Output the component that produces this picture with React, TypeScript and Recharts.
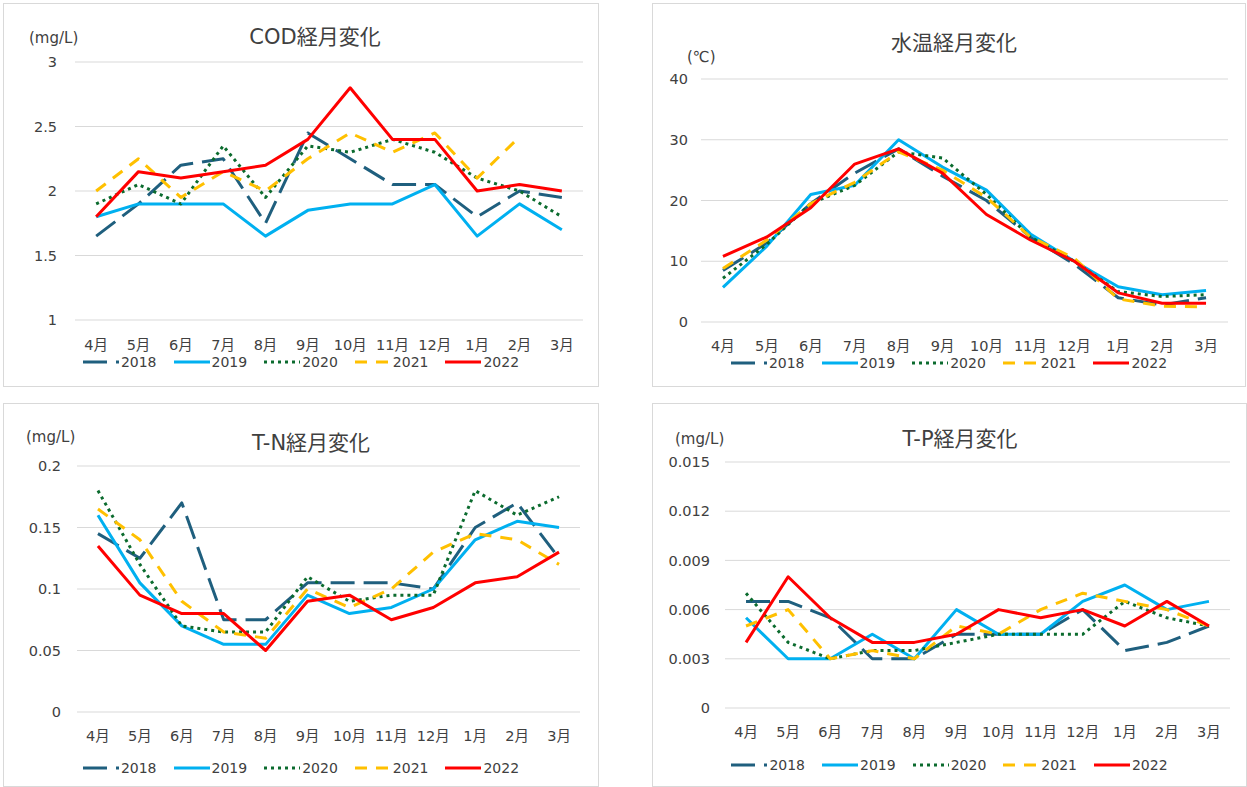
import React from 'react';
import { LineChart, Line, XAxis, YAxis, CartesianGrid, Legend } from 'recharts';

const months = ['4月', '5月', '6月', '7月', '8月', '9月', '10月', '11月', '12月', '1月', '2月', '3月'];
const years = ['2018', '2019', '2020', '2021', '2022'];

// COD (mg/L)
const cod2018 = [1.65, 1.9, 2.2, 2.25, 1.75, 2.45, 2.25, 2.05, 2.05, 1.8, 2.0, 1.95];
const cod2019 = [1.8, 1.9, 1.9, 1.9, 1.65, 1.85, 1.9, 1.9, 2.05, 1.65, 1.9, 1.7];
const cod2020 = [1.9, 2.05, 1.9, 2.35, 1.95, 2.35, 2.3, 2.4, 2.3, 2.1, 2.0, 1.8];
const cod2021 = [2.0, 2.25, 1.95, 2.15, 2.0, 2.25, 2.45, 2.3, 2.45, 2.1, 2.42, null];
const cod2022 = [1.8, 2.15, 2.1, 2.15, 2.2, 2.4, 2.8, 2.4, 2.4, 2.0, 2.05, 2.0];
const codTicks = [1, 1.5, 2, 2.5, 3];

// 水温 (℃)
const temp2018 = [8.5, 13, 19.5, 24.5, 28.5, 24, 20, 14, 9.5, 4, 2.8, 4];
const temp2019 = [5.7, 12.5, 21, 22.5, 30, 25.5, 21.7, 14.5, 10, 5.8, 4.5, 5.2];
const temp2020 = [7.2, 12.8, 19.5, 22.5, 28, 27, 21, 14, 10, 5, 4.2, 4.5];
const temp2021 = [8.8, 13.5, 19.5, 23, 28, 25, 20.5, 14, 10.5, 3.8, 2.6, 2.5];
const temp2022 = [10.8, 14, 18.8, 26, 28.5, 24.5, 17.7, 13.5, 10, 4.8, 3.1, 3.1];
const tempTicks = [0, 10, 20, 30, 40];

// T-N (mg/L)
const tn2018 = [0.145, 0.125, 0.17, 0.075, 0.075, 0.105, 0.105, 0.105, 0.1, 0.15, 0.17, 0.125];
const tn2019 = [0.16, 0.105, 0.07, 0.055, 0.055, 0.095, 0.08, 0.085, 0.1, 0.14, 0.155, 0.15];
const tn2020 = [0.18, 0.12, 0.07, 0.065, 0.065, 0.11, 0.09, 0.095, 0.095, 0.18, 0.16, 0.175];
const tn2021 = [0.165, 0.14, 0.09, 0.065, 0.06, 0.1, 0.085, 0.1, 0.13, 0.145, 0.14, 0.12];
const tn2022 = [0.135, 0.095, 0.08, 0.08, 0.05, 0.09, 0.095, 0.075, 0.085, 0.105, 0.11, 0.13];
const tnTicks = [0, 0.05, 0.1, 0.15, 0.2];

// T-P (mg/L)
const tp2018 = [0.0065, 0.0065, 0.0055, 0.003, 0.003, 0.0045, 0.0045, 0.0045, 0.006, 0.0035, 0.004, 0.005];
const tp2019 = [0.0055, 0.003, 0.003, 0.0045, 0.003, 0.006, 0.0045, 0.0045, 0.0065, 0.0075, 0.006, 0.0065];
const tp2020 = [0.007, 0.004, 0.003, 0.0035, 0.0035, 0.004, 0.0045, 0.0045, 0.0045, 0.0065, 0.0055, 0.005];
const tp2021 = [0.005, 0.006, 0.003, 0.0035, 0.003, 0.005, 0.0045, 0.006, 0.007, 0.0065, 0.006, 0.005];
const tp2022 = [0.004, 0.008, 0.0055, 0.004, 0.004, 0.0045, 0.006, 0.0055, 0.006, 0.005, 0.0065, 0.005];
const tpTicks = [0, 0.003, 0.006, 0.009, 0.012, 0.015];

const colors = ['#1F5F7E', '#00B0F0', '#0B6B2E', '#FFC000', '#FF0000'];
const dashes = ['24 9', undefined, '3 4', '12 9', undefined];

const FONT = '"DejaVu Sans", "Noto Sans CJK JP", sans-serif';
const TEXT = '#404040';
const FS = 14.5;

type Plot = { left: number; right: number; top: number; bottom: number };

function buildRows(series: (number | null)[][]) {
  return months.map((m, i) => {
    const row: Record<string, any> = { month: m };
    years.forEach((y, k) => {
      row['y' + y] = series[k][i];
    });
    return row;
  });
}

function LegendContent(props: any) {
  const payload = [...(props.payload || [])].sort((a: any, b: any) => String(a.value).localeCompare(String(b.value)));
  return (
    <div style={{ display: 'flex', justifyContent: 'center', alignItems: 'center', height: 20, fontFamily: FONT, fontSize: 14, color: TEXT }}>
      {payload.map((e: any, i: number) => (
        <div key={e.value} style={{ display: 'flex', alignItems: 'center', marginRight: i === payload.length - 1 ? 0 : 17 }}>
          <svg width={36} height={10}>
            <line x1={0} y1={5} x2={36} y2={5} stroke={e.color} strokeWidth={3} strokeDasharray={e.payload?.strokeDasharray} />
          </svg>
          <span style={{ marginLeft: 2 }}>{e.value}</span>
        </div>
      ))}
    </div>
  );
}

type PanelProps = {
  left: number; top: number; width: number; height: number;
  title: string; titleX: number; titleY: number;
  unit: string; unitX: number; unitY: number;
  plot: Plot; legendTop: number;
  series: (number | null)[][]; ticks: number[];
  xMargin: number; yMargin: number;
};

function Panel(p: PanelProps) {
  const rows = buildRows(p.series);
  const plotW = p.width - p.plot.left - p.plot.right;
  const half = plotW / months.length / 2;
  return (
    <div style={{ position: 'absolute', left: p.left, top: p.top, width: p.width, height: p.height, background: '#fff' }}>
      <div style={{ position: 'absolute', left: 0, top: 0, width: p.width, height: p.height, border: '1px solid #d9d9d9', boxSizing: 'border-box' }} />
      <div style={{ position: 'absolute', left: 0, top: 0 }}>
        <LineChart width={p.width} height={p.height} data={rows}
          margin={{ top: p.plot.top, right: p.plot.right, left: 0, bottom: 0 }}>
          <CartesianGrid vertical={false} stroke="#d9d9d9" strokeWidth={1} />
          <XAxis dataKey="month" axisLine={false} tickLine={false} height={p.plot.bottom}
            padding={{ left: half, right: half }} interval={0} tickMargin={p.xMargin}
            tick={{ fill: TEXT, fontSize: FS, fontFamily: FONT }} />
          <YAxis width={p.plot.left} domain={[p.ticks[0], p.ticks[p.ticks.length - 1]]} ticks={p.ticks}
            axisLine={false} tickLine={false} tickMargin={p.yMargin} interval={0}
            tick={{ fill: TEXT, fontSize: FS, fontFamily: FONT }} />
          <Legend verticalAlign="middle" align="center" layout="horizontal"
            wrapperStyle={{ top: p.legendTop, left: 0, width: p.width, height: 20 }}
            content={<LegendContent />} />
          {years.map((y, k) => (
            <Line key={y} type="linear" dataKey={'y' + y} name={y} stroke={colors[k]} strokeWidth={3}
              strokeDasharray={dashes[k]} dot={false} activeDot={false} isAnimationActive={false}
              strokeLinecap="butt" strokeLinejoin="round" />
          ))}
        </LineChart>
      </div>
      <div style={{ position: 'absolute', left: p.titleX - 150, width: 300, top: p.titleY - 15, height: 30, lineHeight: '30px', textAlign: 'center', fontFamily: FONT, fontSize: 21, color: '#404040', whiteSpace: 'nowrap' }}>{p.title}</div>
      <div style={{ position: 'absolute', left: p.unitX, top: p.unitY - 10, height: 20, lineHeight: '20px', fontFamily: FONT, fontSize: 15, color: TEXT, whiteSpace: 'nowrap' }}>{p.unit}</div>
    </div>
  );
}

export default function App() {
  return (
    <div style={{ position: 'absolute', left: 0, top: 0, width: 1247, height: 787, background: '#fff' }}>
      <Panel left={3} top={3} width={596} height={384}
        title="COD経月変化" titleX={312} titleY={34}
        unit="(mg/L)" unitX={26} unitY={35}
        plot={{ left: 72, right: 16, top: 59, bottom: 67 }} legendTop={349}
        series={[cod2018, cod2019, cod2020, cod2021, cod2022]} ticks={codTicks}
        xMargin={14} yMargin={12} />
      <Panel left={652} top={3} width={594} height={384}
        title="水温経月変化" titleX={302} titleY={40}
        unit="(℃)" unitX={35} unitY={54}
        plot={{ left: 49, right: 18, top: 76, bottom: 65 }} legendTop={350}
        series={[temp2018, temp2019, temp2020, temp2021, temp2022]} ticks={tempTicks}
        xMargin={13} yMargin={7} />
      <Panel left={3} top={403} width={596} height={384}
        title="T-N経月変化" titleX={308} titleY={40}
        unit="(mg/L)" unitX={23} unitY={34}
        plot={{ left: 74, right: 19, top: 63, bottom: 75 }} legendTop={355}
        series={[tn2018, tn2019, tn2020, tn2021, tn2022]} ticks={tnTicks}
        xMargin={13} yMargin={10} />
      <Panel left={652} top={403} width={595} height={384}
        title="T-P経月変化" titleX={308} titleY={36}
        unit="(mg/L)" unitX={23} unitY={36}
        plot={{ left: 73, right: 17, top: 59, bottom: 79 }} legendTop={352}
        series={[tp2018, tp2019, tp2020, tp2021, tp2022]} ticks={tpTicks}
        xMargin={13} yMargin={9} />
    </div>
  );
}
